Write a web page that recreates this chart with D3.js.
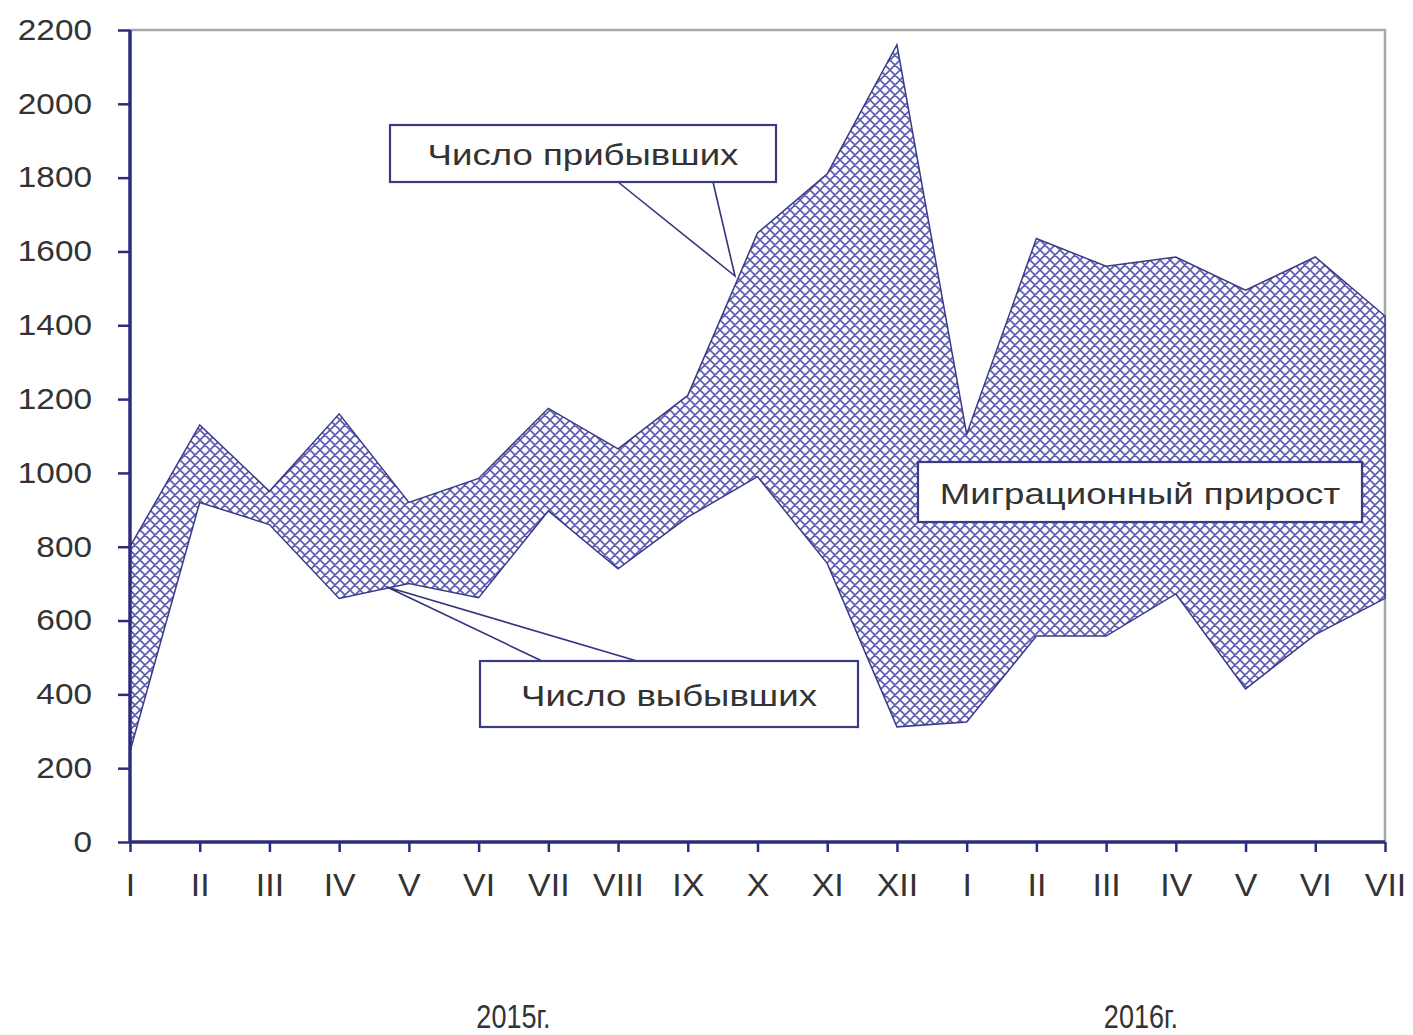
<!DOCTYPE html>
<html>
<head>
<meta charset="utf-8">
<script src="https://cdn.jsdelivr.net/npm/d3@7"></script>
<style>
	body { margin: 0; background: #fff; }
	text { font-family: "Liberation Sans", Arial, sans-serif; fill: #333; }
</style>
</head>
<body>
<div id="chart-area"></div>
<script>

//**************** Data *****************//

let months = ['I', 'II', 'III', 'IV', 'V', 'VI', 'VII', 'VIII', 'IX', 'X', 'XI', 'XII',
	'I', 'II', 'III', 'IV', 'V', 'VI', 'VII'];

// Число прибывших
let arrived = [800, 1130, 950, 1160, 920, 985, 1175, 1065, 1210, 1650, 1810, 2160,
	1105, 1635, 1560, 1585, 1495, 1585, 1425];

// Число выбывших
let departed = [245, 920, 860, 660, 700, 662, 897, 740, 880, 990, 755, 312,
	325, 558, 558, 672, 415, 562, 660];

let yTicks = [0, 200, 400, 600, 800, 1000, 1200, 1400, 1600, 1800, 2000, 2200];

let years = ['2015г.', '2016г.'];


//**************** Canvas *****************//

let margin = { left:130, right:28, top:30, bottom:193 };

let width = 1413 - margin.left - margin.right,
	height = 1035 - margin.top - margin.bottom;

let svg = d3.select('#chart-area').append('svg')
	.attr('width', 1413)
	.attr('height', 1035);

// crosshatch pattern
let pat = svg.append('defs').append('pattern')
	.attr('id', 'hatch')
	.attr('patternUnits', 'userSpaceOnUse')
	.attr('width', 10)
	.attr('height', 10);
pat.append('rect')
	.attr('width', 10).attr('height', 10)
	.attr('fill', '#fafaff');
pat.append('path')
	.attr('d', 'M-1,-1 L11,11 M11,-1 L-1,11 M-1,9 L1,11 M9,-1 L11,1 M-1,1 L1,-1 M9,11 L11,9')
	.attr('stroke', '#5d5daf')
	.attr('stroke-width', 1.6)
	.attr('fill', 'none');

let g = svg.append('g')
	.attr('transform', 'translate(' + margin.left + ', ' + margin.top + ')');

// stretch text horizontally (reference glyphs are wider than Arial)
function stretch(sel, sx) {
	sel.each(function() {
		let t = d3.select(this);
		let x0 = +t.attr('x') || 0;
		t.attr('x', x0 / sx).attr('transform', 'scale(' + sx + ',1)');
	});
}


//**************** Scales & Axes *****************//

let x = d3.scalePoint()
	.domain(d3.range(months.length))
	.range([0, width]);

let y = d3.scaleLinear()
	.domain([0, 2200])
	.range([height, 0]);

// plot frame (top & right)
g.append('path')
	.attr('d', 'M0,0 H' + width + ' V' + height)
	.attr('fill', 'none')
	.attr('stroke', '#a9a9a9')
	.attr('stroke-width', 2.5);

// area between the two series
let area = d3.area()
	.x((d, i) => x(i))
	.y0((d, i) => y(departed[i]))
	.y1((d, i) => y(arrived[i]));

g.append('path')
	.datum(months)
	.attr('d', area)
	.attr('fill', 'url(#hatch)')
	.attr('stroke', '#3a3a88')
	.attr('stroke-width', 1.5);

// Y axis
let yAxisCall = d3.axisLeft(y)
	.tickValues(yTicks)
	.tickSize(12)
	.tickPadding(26)
	.tickFormat(d3.format('d'));

let yAxisGroup = g.append('g')
	.attr('class', 'y-axis')
	.call(yAxisCall);

// X axis
let xAxisCall = d3.axisBottom(x)
	.tickSize(10)
	.tickPadding(21)
	.tickFormat(i => months[i]);

let xAxisGroup = g.append('g')
	.attr('class', 'x-axis')
	.attr('transform', 'translate(0, ' + height + ')')
	.call(xAxisCall);

[yAxisGroup, xAxisGroup].forEach(ax => {
	ax.select('.domain')
		.attr('stroke', '#2c2c7c')
		.attr('stroke-width', 3.5);
	ax.selectAll('.tick line')
		.attr('stroke', '#2c2c7c')
		.attr('stroke-width', 2.5);
	ax.selectAll('.tick text')
		.attr('fill', '#333');
});
yAxisGroup.select('.domain').attr('d', 'M0,0V' + height);
xAxisGroup.select('.domain').attr('d', 'M0,0H' + width);

yAxisGroup.selectAll('.tick text').attr('font-size', '29px');
stretch(yAxisGroup.selectAll('.tick text'), 1.15);
xAxisGroup.selectAll('.tick text').attr('font-size', '32px');
stretch(xAxisGroup.selectAll('.tick text'), 1.06);


//**************** Labels *****************//

function callout(box, label, pointer) {
	let c = g.append('g');
	if (pointer) {
		c.append('path')
			.attr('d', 'M' + pointer.from[0][0] + ',' + pointer.from[0][1] +
				' L' + pointer.to[0] + ',' + pointer.to[1] +
				' L' + pointer.from[1][0] + ',' + pointer.from[1][1])
			.attr('fill', 'none')
			.attr('stroke', '#33337f')
			.attr('stroke-width', 1.6);
	}
	c.append('rect')
		.attr('x', box[0]).attr('y', box[1])
		.attr('width', box[2]).attr('height', box[3])
		.attr('fill', '#fff')
		.attr('stroke', '#3a3a85')
		.attr('stroke-width', 2.2);
	let t = c.append('text')
		.attr('x', box[0] + box[2] / 2)
		.attr('y', box[1] + box[3] / 2 + 12)
		.attr('text-anchor', 'middle')
		.attr('font-size', '30px')
		.attr('fill', '#333')
		.text(label);
	stretch(t, 1.22);
}

// coordinates relative to the plot group
callout([260, 95, 386, 57], 'Число прибывших',
	{ from: [[488, 152], [583, 152]], to: [605, 246] });
callout([350, 631, 378, 66], 'Число выбывших',
	{ from: [[412, 631], [507, 631]], to: [257, 557] });
callout([788, 432, 444, 60], 'Миграционный прирост');

// year labels, centred between months
let yearX = [x(5) + x.step() / 2, x(14) + x.step() / 2];
let yearLabels = g.selectAll('.year-label')
	.data(years)
	.enter().append('text')
		.attr('class', 'year-label')
		.attr('x', (d, i) => yearX[i])
		.attr('y', height + 186)
		.attr('text-anchor', 'middle')
		.attr('font-size', '33px')
		.attr('fill', '#333')
		.text(d => d);
stretch(yearLabels, 0.82);

</script>
</body>
</html>
